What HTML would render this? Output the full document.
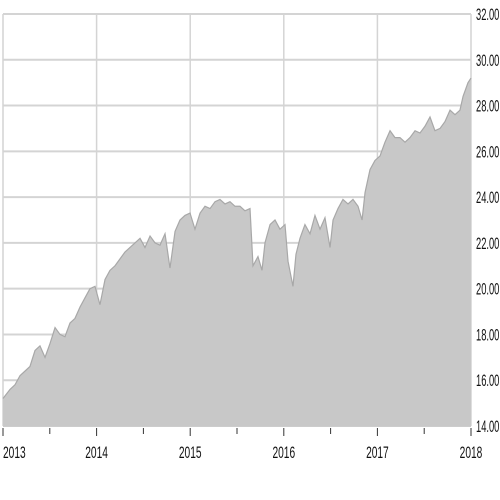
<!DOCTYPE html>
<html><head><meta charset="utf-8"><style>
html,body{margin:0;padding:0;background:#fff;width:500px;height:500px;overflow:hidden}
svg text{font-family:"Liberation Sans",sans-serif;font-size:17px;fill:#111}
</style></head><body>
<svg id="chart" width="500" height="500" viewBox="0 0 500 500"></svg>
<script>
const dates=[2013.00,2013.075,2013.128,2013.182,2013.288,2013.342,2013.395,2013.449,2013.502,2013.556,2013.609,2013.662,2013.716,2013.769,2013.823,2013.876,2013.929,2013.983,2014.036,2014.09,2014.143,2014.197,2014.25,2014.303,2014.357,2014.41,2014.464,2014.517,2014.571,2014.624,2014.677,2014.731,2014.784,2014.838,2014.891,2014.944,2014.998,2015.051,2015.105,2015.158,2015.212,2015.265,2015.318,2015.372,2015.425,2015.479,2015.532,2015.585,2015.639,2015.671,2015.724,2015.767,2015.799,2015.853,2015.906,2015.959,2016.013,2016.045,2016.098,2016.13,2016.173,2016.226,2016.28,2016.333,2016.387,2016.44,2016.494,2016.526,2016.579,2016.632,2016.686,2016.739,2016.793,2016.836,2016.868,2016.921,2016.974,2017.028,2017.081,2017.135,2017.188,2017.241,2017.295,2017.348,2017.402,2017.455,2017.509,2017.562,2017.615,2017.669,2017.722,2017.776,2017.829,2017.882,2017.915,2017.968,2018.0];
const prices=[15.2,15.6,15.8,16.2,16.6,17.3,17.5,17.0,17.6,18.3,18.0,17.9,18.5,18.7,19.2,19.6,20.0,20.1,19.3,20.4,20.8,21.0,21.3,21.6,21.8,22.0,22.2,21.8,22.3,22.0,21.9,22.4,20.9,22.5,23.0,23.2,23.3,22.6,23.3,23.6,23.5,23.8,23.9,23.7,23.8,23.6,23.6,23.4,23.5,21.0,21.4,20.8,22.0,22.8,23.0,22.6,22.8,21.2,20.1,21.5,22.2,22.8,22.4,23.2,22.6,23.1,21.8,23.0,23.5,23.9,23.7,23.9,23.6,23.0,24.2,25.2,25.6,25.8,26.4,26.9,26.6,26.6,26.4,26.6,26.9,26.8,27.1,27.5,26.9,27.0,27.3,27.8,27.6,27.8,28.4,29.0,29.2];
const yTicks=[14,16,18,20,22,24,26,28,30,32];
const xTicks=[2013,2014,2015,2016,2017,2018];
const X0=3,X1=471,Y0=426,Y1=14;
const xs=d=>X0+(d-2013)/5*(X1-X0);
const ys=v=>Y0-(v-14)/18*(Y0-Y1);
const svg=document.getElementById('chart');
const NS='http://www.w3.org/2000/svg';
function mk(t,a){const e=document.createElementNS(NS,t);for(const k in a)e.setAttribute(k,a[k]);svg.appendChild(e);return e;}
yTicks.forEach(v=>{
 const l=mk('line',{x1:X0,x2:X1,y1:ys(v),y2:ys(v),stroke:'#d4d4d4','stroke-width':2});
 
 
 const t=mk('text',{x:0,y:0,transform:`translate(476,${ys(v)+6}) scale(0.55,1)`});
 t.textContent=v.toFixed(2);
 
 
});
xTicks.forEach(v=>{
 const l=mk('line',{x1:xs(v),x2:xs(v),y1:Y1,y2:Y0,stroke:'#d4d4d4','stroke-width':1.5});
 
 
});
let d=`M${xs(dates[0])},${Y0}`;
dates.forEach((dt,i)=>{d+=` L${xs(dt)},${ys(prices[i])}`;});
d+=` L${xs(dates[dates.length-1])},${Y0} Z`;
const area=mk('path',{d:d,fill:'#c8c8c8',stroke:'none'});


let ld='';dates.forEach((dt,i)=>{ld+=(i?' L':'M')+xs(dt)+','+ys(prices[i]);});
const line=mk('path',{d:ld,fill:'none',stroke:'#a8a8a8','stroke-width':1.2});


const ax=mk('line',{x1:X0,x2:X1,y1:Y0+0.5,y2:Y0+0.5,stroke:'#ccc','stroke-width':1});


for(let i=0;i<=10;i++){
 const x=X0+i*(X1-X0)/10;
 const tk=mk('line',{x1:x,x2:x,y1:Y0+2,y2:i%2?Y0+8:Y0+10,stroke:'#333','stroke-width':1});
 
 
}
xTicks.forEach((v,i)=>{
 const t=mk('text',{x:0,y:0,'text-anchor':i===0?'start':'middle',transform:`translate(${i===0?X0:xs(v)},458) scale(0.6,1)`});
 t.textContent=v;
 
 
});
</script>
</body></html>
